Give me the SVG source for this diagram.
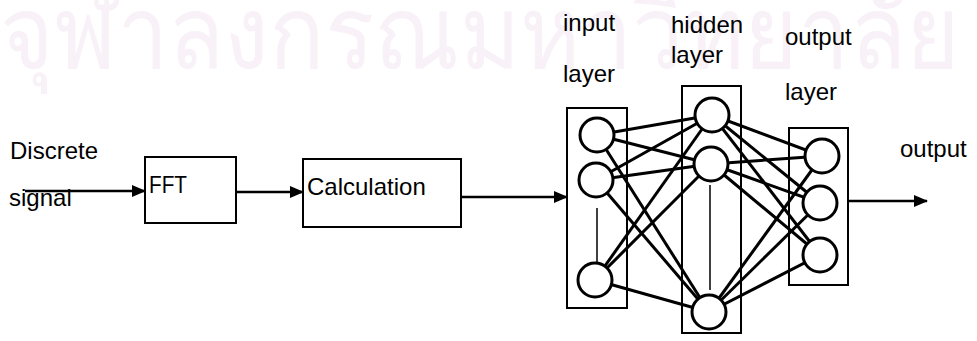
<svg xmlns="http://www.w3.org/2000/svg" width="977" height="341" viewBox="0 0 977 341">
<style>
.t{font-family:"Liberation Sans",Arial,sans-serif;font-size:24px;fill:#000}
.wm{font-family:"Noto Sans",sans-serif;font-size:100px;fill:#f8f1f7}
.box{fill:#fff;stroke:#000;stroke-width:2}
.lay{fill:none;stroke:#000;stroke-width:2}
.n{fill:#fff;stroke:#000;stroke-width:3}
.c{stroke:#000;stroke-width:3;fill:none}
.thin{stroke:#000;stroke-width:1.5}
.a{stroke:#000;stroke-width:2.5;fill:none;marker-end:url(#ah)}
</style>
<defs>
<marker id="ah" markerUnits="userSpaceOnUse" markerWidth="14" markerHeight="12" refX="13" refY="6" orient="auto">
<path d="M0,0 L14,6 L0,12 z" fill="#000"/>
</marker>
</defs>
<rect width="977" height="341" fill="#fff"/>
<text class="wm" x="0" y="68" textLength="960" lengthAdjust="spacingAndGlyphs">จุฬาลงกรณมหาวิทยาลัย</text>

<g id="label-discrete"><text class="t" x="10" y="159">Discrete</text><text class="t" x="9" y="206">signal</text></g>
<g id="fft"><rect class="box" x="145" y="157" width="91" height="66"/><text class="t" x="149" y="193" textLength="38" lengthAdjust="spacingAndGlyphs">FFT</text></g>
<g id="calc"><rect class="box" x="303" y="159" width="158" height="68"/><text class="t" x="307" y="195">Calculation</text></g>

<g id="input-layer"><rect class="lay" x="567" y="108" width="60" height="200"/><text class="t" x="563" y="31">input</text><text class="t" x="563" y="82">layer</text><line class="thin" x1="597" y1="208" x2="597" y2="263"/></g>
<g id="hidden-layer"><rect class="lay" x="682" y="86" width="59" height="247"/><text class="t" x="671" y="33">hidden</text><text class="t" x="671" y="63">layer</text><line class="thin" x1="710" y1="185" x2="710" y2="290"/></g>
<g id="output-layer"><rect class="lay" x="789" y="128" width="59" height="157"/><text class="t" x="785" y="45">output</text><text class="t" x="785" y="100">layer</text></g>
<g id="label-output"><text class="t" x="900" y="157">output</text></g>

<g id="connectors">
<line class="a" x1="25" y1="191" x2="145" y2="191"/>
<line class="a" x1="236" y1="192" x2="303" y2="192"/>
<line class="a" x1="461" y1="197" x2="567" y2="197"/>
<line class="a" x1="848" y1="201" x2="927" y2="201"/>
<g class="c">
<line x1="597" y1="135" x2="712" y2="115"/>
<line x1="597" y1="135" x2="711" y2="164"/>
<line x1="597" y1="135" x2="709" y2="312"/>
<line x1="596" y1="180" x2="712" y2="115"/>
<line x1="596" y1="180" x2="711" y2="164"/>
<line x1="596" y1="180" x2="709" y2="312"/>
<line x1="595" y1="280" x2="712" y2="115"/>
<line x1="595" y1="280" x2="711" y2="164"/>
<line x1="595" y1="280" x2="709" y2="312"/>
<line x1="712" y1="115" x2="822" y2="156"/>
<line x1="712" y1="115" x2="820" y2="203"/>
<line x1="712" y1="115" x2="820" y2="255"/>
<line x1="711" y1="164" x2="822" y2="156"/>
<line x1="711" y1="164" x2="820" y2="203"/>
<line x1="711" y1="164" x2="820" y2="255"/>
<line x1="709" y1="312" x2="822" y2="156"/>
<line x1="709" y1="312" x2="820" y2="203"/>
<line x1="709" y1="312" x2="820" y2="255"/>
</g>
</g>

<g id="i1"><circle class="n" cx="597" cy="135" r="17"/></g>
<g id="i2"><circle class="n" cx="596" cy="180" r="17"/></g>
<g id="i3"><circle class="n" cx="595" cy="280" r="17"/></g>
<g id="h1"><circle class="n" cx="712" cy="115" r="17"/></g>
<g id="h2"><circle class="n" cx="711" cy="164" r="17"/></g>
<g id="h3"><circle class="n" cx="709" cy="312" r="17"/></g>
<g id="o1"><circle class="n" cx="822" cy="156" r="17"/></g>
<g id="o2"><circle class="n" cx="820" cy="203" r="17"/></g>
<g id="o3"><circle class="n" cx="820" cy="255" r="17"/></g>
</svg>
